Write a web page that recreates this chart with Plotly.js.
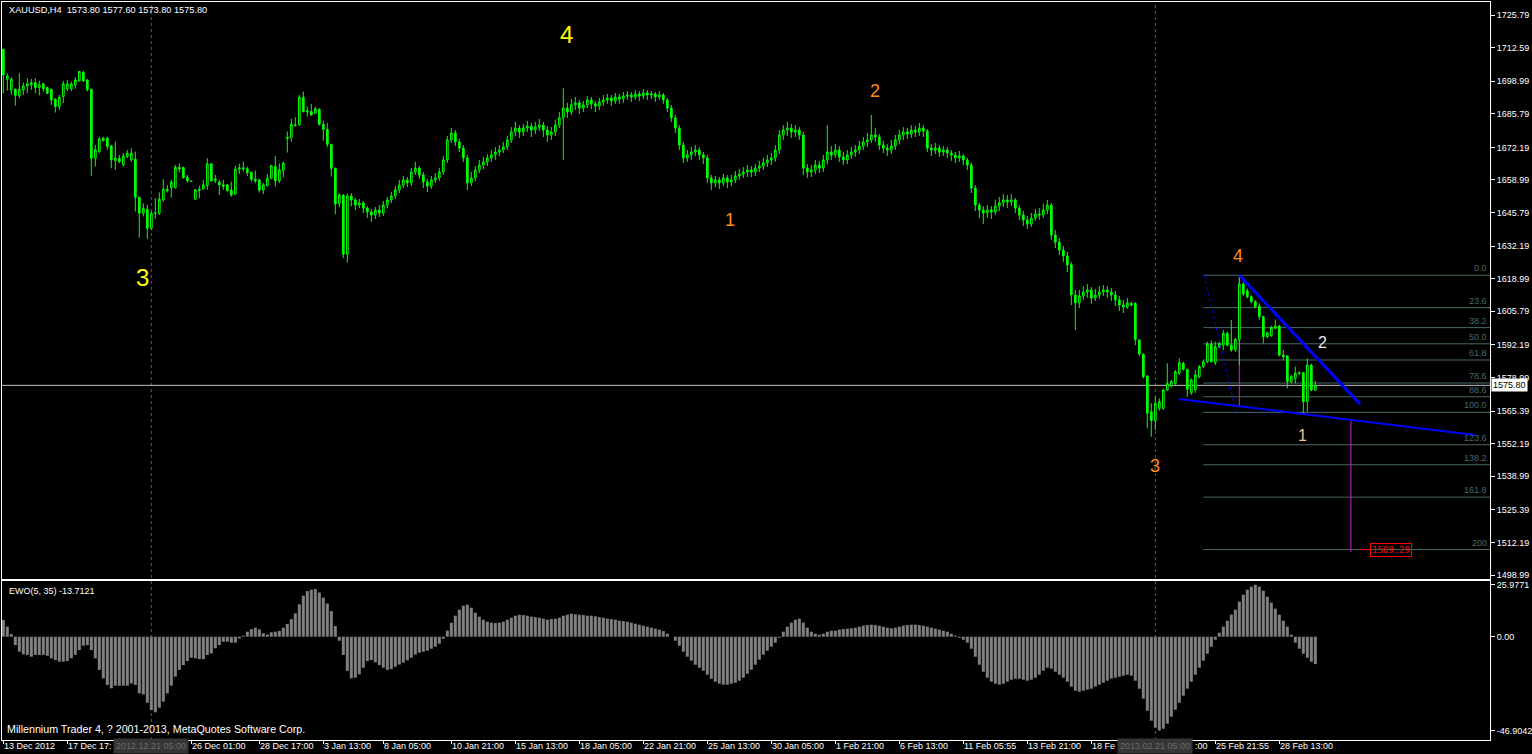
<!DOCTYPE html>
<html><head><meta charset="utf-8">
<script src="https://cdn.plot.ly/plotly-3.0.1.min.js"></script>
<style>html,body{margin:0;padding:0;background:#000;overflow:hidden}#chart{width:1532px;height:754px}</style>
</head><body><div id="chart"></div>
<script>
// ---------- DATA (XAUUSD H4, candles 0..328) ----------
const openA1 = [1711.9,1699.8,1695.5,1695.7,1693.2,1695.5,1697.1,1697.5,1698.4,1696.4,1697.9,1696.4,1695.7,1691.7,1688.7,1692.8,1695.9,1695.9,1697.5,1699.1,1702.6,1699.5,1695.7,1667.8,1670.5,1675.0,1675.9,1672.8,1666.8,1667.8,1665.1,1668.4,1667.1,1667.4,1652.0,1645.5,1647.1,1639.4,1645.5,1645.5,1650.9,1655.2,1655.9,1655.9,1664.1,1664.0,1660.0,1658.5,1651.2,1654.7,1655.4,1656.7,1665.5,1658.7,1658.1,1657.0,1657.0,1654.9,1653.3,1663.4,1663.9,1663.5,1662.1,1659.3,1659.0,1654.9,1656.7,1659.7,1664.4,1658.7,1662.8,1675.7,1676.1,1681.0,1681.3,1692.5,1686.5,1686.7,1686.0,1687.6,1681.5,1679.5,1673.4,1663.7,1649.5,1652.9,1628.9];
const highA1 = [1712.0,1702.2,1700.6,1696.0,1702.2,1698.4,1700.2,1699.9,1700.2,1699.2,1698.4,1696.8,1696.0,1692.1,1693.4,1699.1,1699.5,1698.8,1700.6,1703.1,1703.1,1699.8,1696.0,1673.2,1676.5,1676.5,1676.5,1673.2,1674.5,1669.1,1669.8,1671.1,1671.8,1670.5,1652.2,1649.5,1648.9,1646.2,1651.6,1653.9,1659.3,1657.0,1659.0,1665.1,1665.7,1664.4,1661.0,1658.7,1655.3,1656.6,1659.0,1667.8,1665.8,1661.0,1659.0,1659.0,1657.2,1658.3,1664.7,1665.5,1666.4,1664.4,1662.4,1662.8,1659.3,1657.7,1661.4,1665.1,1668.7,1665.7,1666.4,1678.6,1683.7,1684.4,1693.4,1694.8,1688.7,1689.8,1688.7,1688.0,1683.0,1682.0,1673.6,1664.0,1653.6,1653.2,1653.6];
const lowA1 = [1694.1,1695.2,1693.4,1689.1,1692.1,1693.4,1694.1,1695.5,1694.1,1693.2,1694.8,1693.7,1689.4,1686.3,1687.4,1690.1,1695.0,1695.0,1696.0,1698.8,1698.8,1694.8,1660.6,1664.4,1669.8,1674.5,1671.2,1663.7,1663.1,1665.7,1664.4,1667.8,1666.4,1646.2,1635.6,1644.2,1635.1,1638.7,1643.2,1644.8,1650.2,1653.9,1651.8,1655.5,1662.0,1659.5,1657.9,1658.2,1650.9,1651.6,1655.0,1655.0,1658.3,1657.7,1652.9,1655.0,1654.2,1652.2,1652.9,1661.4,1662.4,1660.6,1658.3,1657.7,1653.9,1653.3,1656.3,1659.3,1656.3,1657.7,1660.1,1670.1,1674.5,1680.6,1680.9,1686.3,1684.7,1684.9,1685.7,1681.0,1674.9,1672.2,1660.4,1645.1,1647.9,1627.3,1625.5];
const closeA1 = [1701.5,1701.1,1699.8,1693.2,1695.7,1697.1,1697.9,1698.4,1696.4,1697.5,1695.9,1694.1,1691.4,1688.7,1692.5,1697.9,1697.9,1697.9,1699.5,1702.9,1699.1,1695.5,1667.8,1671.2,1675.5,1675.9,1672.5,1667.1,1667.8,1666.4,1668.7,1669.8,1669.8,1652.0,1645.5,1647.5,1639.4,1645.5,1645.6,1651.2,1655.2,1654.7,1658.1,1664.1,1663.4,1659.9,1658.7,1658.4,1655.0,1655.2,1657.0,1665.5,1658.6,1659.3,1657.0,1656.4,1654.7,1652.9,1663.4,1663.9,1663.5,1662.0,1659.3,1658.7,1654.9,1657.0,1659.7,1664.7,1658.7,1663.1,1665.8,1676.2,1681.5,1681.2,1692.5,1686.7,1687.0,1685.3,1687.8,1681.5,1679.5,1673.4,1663.7,1649.2,1652.9,1628.9,1652.5];

const openA2 = [1652.5,1650.9,1648.8,1649.7,1647.6,1646.0,1644.8,1646.8,1645.6,1648.8,1650.9,1652.5,1654.9,
1656.9,1659.0,1657.8,1662.2,1663.8,1661.0,1658.2,1656.5,1659.0,1659.8,
1662.2,1667.1,1675.2,1678.0,1674.4,1671.9,1667.9,1657.8,1659.8,1663.0,
1665.0,1666.3,1667.9,1669.1,1670.3,1671.1,1672.3,1675.2,1678.4,1680.0,
1678.4,1680.0,1680.8,1679.2,1680.4,1681.2,1679.2,1677.2,1678.4,1681.2,
1684.1,1688.1,1686.5,1689.4,1690.2,1688.1,1689.4,1691.4,1689.8,1688.9,
1690.6,1691.4,1692.2,1691.0,1692.6,1691.8,1693.0,1693.4,1692.6,1693.8,
1693.0,1694.2,1693.4,1693.8,1692.6,1693.4,1691.4,1688.1,1684.1,1680.0,
1673.1,1667.9,1669.1,1670.3,1671.1,1669.1,1667.9,1659.8,1657.8,1659.0,
1657.8,1659.8,1658.2,1659.0,1660.6,1661.4,1662.2,1663.0,1662.2,1663.8,
1664.6,1665.9,1667.1,1667.9,1671.1,1677.2,1679.2,1680.0,1678.4,1679.2,
1677.2,1663.8,1662.2,1663.0,1665.0,1663.8,1667.1,1670.3,1669.1,1671.1,
1668.3,1667.1,1669.1,1670.3,1671.1,1672.7,1674.4,1675.2,1677.2,1676.4,
1673.1,1671.9,1671.1,1672.7,1675.2,1677.2,1678.4,1677.6,1679.2,1678.4,
1680.0,1678.8,1671.9,1671.1,1671.9,1670.3,1671.1,1669.9,1669.1,1667.9,
1668.7,1667.1,1665.0,1655.7,1648.8,1646.8,1645.6,1646.8,1646.0,1648.4,
1649.7,1650.9,1650.1,1650.9,1647.6,1644.8,1642.8,1641.1,1643.6,1645.2,
1644.8,1646.8,1648.8,1636.7,1633.8,1630.6,1628.2,1624.6,1612.4,1609.2,
1612.0,1613.6,1614.4,1611.2,1612.4,1613.6,1614.4,1613.6,1612.4,1610.4,
1608.3,1607.5];
const highA2 = [1653.7,1651.7,1651.3,1650.5,1648.4,1647.2,1648.0,1648.8,1650.5,1652.1,1654.1,1656.5,1659.0,
1660.6,1660.2,1663.8,1666.3,1664.6,1662.2,1659.4,1660.6,1661.8,1663.8,
1668.7,1676.8,1680.0,1679.2,1675.6,1673.1,1669.1,1662.2,1664.6,1667.1,
1668.3,1669.5,1671.1,1672.3,1673.1,1674.4,1676.8,1680.4,1682.5,1681.2,
1681.6,1682.9,1682.1,1682.5,1683.7,1682.5,1680.8,1680.4,1683.3,1686.5,
1696.2,1690.2,1691.8,1692.6,1691.4,1691.0,1693.0,1692.6,1691.0,1692.2,
1693.4,1693.8,1693.4,1694.2,1693.8,1694.6,1695.0,1694.6,1695.4,1695.0,
1695.8,1695.4,1695.0,1694.6,1695.0,1694.2,1692.2,1689.4,1685.3,1681.2,
1674.4,1671.1,1672.3,1673.1,1672.3,1670.3,1669.1,1661.0,1660.6,1660.2,
1661.4,1661.0,1661.0,1662.6,1663.4,1664.2,1665.0,1664.6,1665.4,1666.7,
1667.9,1669.1,1669.9,1673.1,1679.2,1681.2,1682.5,1681.6,1681.2,1680.4,
1678.4,1665.4,1665.0,1667.1,1666.7,1669.1,1681.2,1672.7,1673.5,1672.7,
1670.3,1671.1,1672.3,1673.1,1674.8,1676.4,1678.0,1685.3,1680.0,1677.6,
1674.8,1673.5,1675.2,1677.2,1679.2,1680.4,1680.0,1681.2,1680.8,1682.1,
1681.2,1679.6,1673.5,1674.0,1673.1,1672.7,1672.3,1671.1,1670.3,1670.7,
1669.5,1667.9,1665.9,1656.9,1649.7,1648.4,1648.8,1648.4,1650.9,1652.1,
1653.3,1652.9,1653.3,1651.7,1648.8,1646.4,1644.4,1645.6,1647.2,1647.6,
1649.3,1650.9,1649.7,1638.7,1635.5,1632.2,1629.8,1625.8,1614.4,1614.4,
1616.0,1616.8,1615.6,1614.8,1616.0,1616.4,1616.0,1615.2,1614.0,1612.0,
1610.4,1611.2];
const lowA2 = [1648.4,1646.8,1647.6,1645.6,1643.6,1642.0,1643.2,1644.0,1644.4,1647.6,1649.7,1651.3,1653.7,
1655.7,1656.1,1656.5,1661.0,1659.4,1655.7,1654.1,1655.3,1657.8,1658.6,
1661.0,1665.9,1674.0,1672.7,1670.3,1666.3,1654.9,1656.5,1658.6,1661.8,
1663.4,1664.6,1666.3,1667.1,1668.7,1669.9,1671.1,1674.0,1676.8,1676.0,
1676.8,1678.4,1676.4,1677.6,1678.8,1676.4,1674.4,1675.2,1676.8,1680.0,
1667.1,1684.1,1685.3,1687.3,1685.7,1686.5,1688.1,1687.7,1686.5,1687.3,
1689.0,1689.8,1689.0,1689.8,1689.8,1690.2,1691.4,1690.6,1691.4,1691.0,
1691.8,1691.4,1691.8,1690.6,1691.4,1689.8,1686.5,1682.5,1678.0,1671.1,
1665.9,1666.3,1667.1,1668.7,1667.1,1665.4,1657.8,1654.9,1656.1,1655.3,
1656.5,1655.7,1656.5,1657.8,1659.0,1659.8,1660.2,1660.2,1660.6,1662.2,
1663.0,1664.2,1665.0,1666.3,1669.5,1675.2,1676.8,1676.0,1676.4,1675.2,
1661.0,1659.8,1660.2,1661.4,1661.8,1662.2,1665.4,1667.1,1667.9,1666.3,
1665.0,1665.4,1667.5,1668.3,1669.5,1671.1,1672.3,1674.0,1674.4,1671.1,
1669.9,1668.7,1669.5,1671.1,1673.5,1675.2,1675.6,1676.0,1676.4,1676.8,
1676.4,1670.3,1668.7,1669.5,1668.3,1668.7,1667.9,1666.7,1665.9,1666.3,
1665.0,1663.0,1653.7,1646.4,1643.6,1641.1,1643.6,1643.2,1644.8,1646.4,
1648.0,1647.6,1648.4,1645.6,1642.8,1640.3,1639.1,1639.9,1642.4,1642.8,
1643.6,1645.2,1634.7,1631.4,1628.6,1625.8,1621.7,1608.3,1598.2,1607.1,
1610.4,1611.2,1608.8,1610.0,1610.8,1612.0,1611.2,1610.0,1607.9,1605.9,
1605.1,1606.7];
const closeA2 = [1650.9,1648.8,1649.7,1647.6,1646.0,1644.8,1646.8,1645.6,1648.8,1650.9,1652.5,1654.9,1656.9,
1659.0,1657.8,1662.2,1663.8,1661.0,1658.2,1656.5,1659.0,1659.8,1662.2,
1667.1,1675.2,1678.0,1674.4,1671.9,1667.9,1657.8,1659.8,1663.0,1665.0,
1666.3,1667.9,1669.1,1670.3,1671.1,1672.3,1675.2,1678.4,1680.0,1678.4,
1680.0,1680.8,1679.2,1680.4,1681.2,1679.2,1677.2,1678.4,1681.2,1684.1,
1688.1,1686.5,1689.4,1690.2,1688.1,1689.4,1691.4,1689.8,1688.9,1690.6,
1691.4,1692.2,1691.0,1692.6,1691.8,1693.0,1693.4,1692.6,1693.8,1693.0,
1694.2,1693.4,1693.8,1692.6,1693.4,1691.4,1688.1,1684.1,1680.0,1673.1,
1667.9,1669.1,1670.3,1671.1,1669.1,1667.9,1659.8,1657.8,1659.0,1657.8,
1659.8,1658.2,1659.0,1660.6,1661.4,1662.2,1663.0,1662.2,1663.8,1664.6,
1665.9,1667.1,1667.9,1671.1,1677.2,1679.2,1680.0,1678.4,1679.2,1677.2,
1663.8,1662.2,1663.0,1665.0,1663.8,1667.1,1670.3,1669.1,1671.1,1668.3,
1667.1,1669.1,1670.3,1671.1,1672.7,1674.4,1675.2,1677.2,1676.4,1673.1,
1671.9,1671.1,1672.7,1675.2,1677.2,1678.4,1677.6,1679.2,1678.4,1680.0,
1678.8,1671.9,1671.1,1671.9,1670.3,1671.1,1669.9,1669.1,1667.9,1668.7,
1667.1,1665.0,1655.7,1648.8,1646.8,1645.6,1646.8,1646.0,1648.4,1649.7,
1650.9,1650.1,1650.9,1647.6,1644.8,1642.8,1641.1,1643.6,1645.2,1644.8,
1646.8,1648.8,1636.7,1633.8,1630.6,1628.2,1624.6,1612.4,1609.2,1612.0,
1613.6,1614.4,1611.2,1612.4,1613.6,1614.4,1613.6,1612.4,1610.4,1608.3,
1607.5,1609.2];

const openA3 = [1609.0,1609.0,1594.2,1588.5,1579.6,1565.1,1561.5,1566.5,1566.5,1573.9,1575.5,1576.6,1580.7,1584.7,1582.3,1572.8,1573.9,1579.3,1583.4,1585.4,1592.5,1585.0,1591.5,1592.1,1596.9,1592.1,1590.1,1594.4,1616.85,1614.15,1611.7,1609.7,1607.9,1603.6,1595.5,1595.9,1598.9,1599.8,1588.1,1587.7,1577.3,1578.6,1580.7,1580.9,1569.2,1584.0,1573.8];
const highA3 = [1609.7,1609.5,1594.4,1588.5,1580.0,1568.5,1571.2,1570.5,1574.5,1584.7,1578.0,1582.0,1586.7,1585.4,1582.6,1578.6,1582.0,1584.0,1586.1,1593.5,1594.0,1593.5,1593.8,1598.2,1597.5,1602.3,1595.0,1620.4,1617.5,1615.0,1612.3,1610.3,1609.0,1604.0,1597.5,1600.0,1602.5,1600.3,1590.1,1588.0,1580.0,1583.4,1581.5,1581.3,1586.7,1584.5,1577.6];
const lowA3 = [1607.7,1592.1,1587.7,1578.6,1558.4,1555.0,1557.7,1565.5,1565.8,1573.5,1575.0,1576.0,1580.0,1581.8,1571.2,1572.0,1572.8,1578.6,1582.7,1584.7,1585.0,1584.0,1590.8,1590.1,1591.5,1589.4,1589.5,1584.0,1612.0,1611.0,1609.0,1607.0,1602.3,1592.8,1594.9,1595.5,1598.5,1587.5,1586.1,1574.6,1576.6,1576.6,1580.0,1564.5,1565.1,1573.5,1573.8];
const closeA3 = [1608.3,1594.4,1588.5,1579.3,1564.5,1561.5,1568.5,1569.2,1573.9,1576.6,1577.3,1581.3,1585.0,1582.3,1574.2,1578.0,1580.0,1583.4,1585.4,1592.5,1585.4,1591.5,1592.8,1596.9,1592.1,1590.1,1594.4,1616.85,1612.8,1611.7,1609.7,1607.7,1603.6,1595.5,1597.1,1599.3,1599.8,1588.1,1587.4,1577.3,1579.3,1580.7,1580.9,1569.2,1584.0,1573.9,1575.8];

const ewo1 = [8.4,5.0,1.3,-4.2,-7.5,-8.8,-9.1,-10.0,-9.1,-9.1,-9.1,-9.5,-10.8,-11.7,-12.5,-12.5,-12.2,-10.8,-9.1,-6.7,-4.5,-4.2,-6.7,-10.8,-16.6,-20.8,-24.1,-25.8,-24.5,-24.5,-24.5,-24.5,-23.4,-24.1,-28.3,-28.9,-33.0,-36.7,-37.8,-35.5,-32.5,-28.3,-24.5,-20.0,-16.6,-14.2,-12.2,-10.5,-10.8,-11.2,-11.2,-9.1,-8.4,-5.8,-4.2,-2.5,-2.5,-3.0,-3.0,-0.9,0.5,2.5,3.8,4.5,3.7,1.7,1.1,2.2,2.5,2.9,4.5,6.4,8.8,11.7,16.2,20.5,22.8,23.5,23.8,22.1,19.5,16.6,12.8,5.3,-2.0,-9.1,-17.1,-20.8,-20.5,-18.8,-15.5,-12.2,-11.7,-12.8,-14.2,-15.5,-16.6,-16.2,-15.0,-13.9];
const ewo2 = [-13.0,-11.8,-10.5,-9.0,-8.0,-7.5,-7.0,-6.0,-5.0,-3.5,
-1.0,3.0,7.0,10.5,13.5,15.5,16.0,14.5,12.0,10.0,
8.5,7.5,7.0,6.8,7.0,7.5,8.5,9.5,10.5,11.0,
10.8,10.5,10.0,9.8,9.5,9.0,8.5,8.8,9.0,9.5,
10.5,11.0,11.5,11.2,11.0,10.8,10.5,10.5,10.2,9.8,
9.5,9.0,8.8,8.5,8.0,7.8,7.5,7.0,6.5,6.0,
5.5,5.0,4.5,4.0,3.5,2.8,1.5,0.0,-2.0,-4.5,
-7.5,-10.0,-12.0,-14.0,-15.5,-17.0,-19.0,-21.0,-22.5,-23.5,
-24.0,-24.0,-23.5,-23.0,-22.0,-20.5,-18.5,-16.5,-14.0,-11.5,
-9.0,-7.0,-5.0,-3.0,-0.5,2.5,5.0,7.0,8.5,9.0,
7.0,4.5,2.5,1.5,1.0,1.5,2.5,3.0,3.0,3.5,
3.8,4.0,4.2,4.5,5.0,5.5,5.8,6.0,5.8,5.5,
5.0,4.5,4.2,4.5,5.0,5.5,5.8,6.0,6.0,5.8,
5.5,5.0,4.5,4.0,3.5,3.0,2.5,1.5,0.5,-0.5,
-1.5,-3.0,-6.0,-10.0,-14.0,-17.5,-20.5,-22.5,-23.5,-24.0,
-23.5,-22.5,-21.5,-21.0,-21.0,-21.5,-22.0,-21.5,-20.5,-19.0,
-17.0,-15.5,-16.0,-17.5,-19.0,-20.5,-22.5,-25.0,-27.0,-27.5,
-27.0,-26.5,-26.0,-25.0,-24.0,-23.0,-22.0,-21.0,-20.5,-20.0,
-19.5,-19.0,-19.5,-22.0,-26.0,-31.0,-37.0,-42.0,-45.5,-46.9042,
-46.0,-43.5,-40.0,-36.5,-33.0,-29.5,-26.0,-22.5,-19.0,-15.5,
-12.0,-8.5,-5.0,-1.5,2.0,5.0,8.0,11.0,13.5,17.5,
21.0,23.5,25.0,25.9771,25.0,23.0,20.0,17.0,14.0,11.0,
8.0,5.0,1.0,-3.0,-6.0,-8.5,-10.5,-12.5,-13.7121];

// time axis: tick candle index and the part of each label left visible by the crosshair date boxes
const timeTickIdx = [0,16,32,47,64,80,95,112,128,144,160,176,192,208,224,240,256,272,287,303,319];
const timeLabels = ["13 Dec 2012","17 Dec 17:","","26 Dec 01:00","28 Dec 17:00","3 Jan 13:00","8 Jan 05:00","10 Jan 21:00","15 Jan 13:00","18 Jan 05:00","22 Jan 21:00","25 Jan 13:00","30 Jan 05:00","1 Feb 21:00","6 Feb 13:00","11 Feb 05:55","13 Feb 21:00","18 Fe","","25 Feb 21:55","28 Feb 13:00"];
const hiddenTail = ":00";
const priceTicks = [1725.79,1712.59,1698.99,1685.79,1672.19,1658.99,1645.79,1632.19,1618.99,1605.79,1592.19,1578.99,1565.39,1552.19,1538.99,1525.39,1512.19,1498.99];
const ewoTicks = [25.9771,0,-46.9042];
const ewoTickText = ["25.9771","0.00","-46.9042"];
const fibLevels = [0,23.6,38.2,50.0,61.8,78.6,88.6,100.0,123.6,138.2,161.8,200,224];
const fibHigh = 1620.4, fibLow = 1564.85;
const lastPrice = 1575.80;
const targetPrice = 1509.29;
const crossIdx = [37, 288];
const crossLabels = ["2012.12.21 05:00","2013.02.21 05:00"];

const openP = openA1.concat(openA2, openA3);
const highP = highA1.concat(highA2, highA3);
const lowP = lowA1.concat(lowA2, lowA3);
const closeP = closeA1.concat(closeA2, closeA3);
const ewo = ewo1.concat(ewo2);

// ---------- GEOMETRY HELPERS ----------
const W = 1532, H = 754, mL = 2, mR = 42, mT = 2, mB = 14;
const pw = W - mL - mR, ph = H - mT - mB;
const px2paperX = px => (px - mL) / pw;
const py2paperY = py => (H - mB - py) / ph;
const xRange = [-0.33, 371.67];
const mainDom = [py2paperY(579), 1];
const ewoDom = [0, py2paperY(581)];

const idx = openP.map((_, i) => i);
const eidx = ewo.map((_, i) => i);

const FONT = 'Liberation Sans, Arial, sans-serif';
const fibColor = '#4a6868';

const traces = [
  {type: 'candlestick', x: idx, open: openP, high: highP, low: lowP, close: closeP,
   xaxis: 'x', yaxis: 'y', hoverinfo: 'skip', showlegend: false,
   increasing: {line: {color: '#00ff00', width: 1}, fillcolor: '#000000'},
   decreasing: {line: {color: '#00ff00', width: 1}, fillcolor: '#00ff00'}},
  {type: 'bar', x: eidx, y: ewo, xaxis: 'x2', yaxis: 'y2', width: 0.75,
   marker: {color: '#808080', line: {width: 0}}, hoverinfo: 'skip', showlegend: false}
];

const shapes = [];
const annotations = [];
// time labels (left-aligned at their tick, MT4 style)
timeTickIdx.forEach((k, i) => { if (timeLabels[i]) annotations.push({xref: 'x2', yref: 'paper', x: k, y: py2paperY(746.5), text: timeLabels[i],
  showarrow: false, xanchor: 'left', yanchor: 'middle', xshift: -1, font: {family: FONT, size: 9, color: '#ffffff'}}); });
// current price line
shapes.push({type: 'line', xref: 'x', yref: 'y', x0: xRange[0], x1: xRange[1], y0: lastPrice, y1: lastPrice,
  line: {color: '#c0c0c0', width: 1}, layer: 'below'});
// crosshair verticals and their date boxes
crossIdx.forEach((k, i) => {
  shapes.push({type: 'line', xref: 'x', yref: 'paper', x0: k, x1: k, y0: 0, y1: 1,
    line: {color: '#5a5a5a', width: 1, dash: '3px,3px'}, layer: 'below'});
  annotations.push({xref: 'x2', yref: 'paper', x: k, y: py2paperY(746.5), text: crossLabels[i],
    showarrow: false, bgcolor: '#363636', font: {family: FONT, size: 9, color: '#6c6c6c'},
    xanchor: 'center', yanchor: 'middle', borderpad: 2});
});
// end of the label hidden under the second date box
annotations.push({xref: 'x2', yref: 'paper', x: crossIdx[1], y: py2paperY(746.5), text: hiddenTail, showarrow: false,
  xanchor: 'left', yanchor: 'middle', xshift: 38, font: {family: FONT, size: 9, color: '#ffffff'}});
// fibonacci levels
fibLevels.forEach(lv => {
  const p = fibHigh - (fibHigh - fibLow) * lv / 100;
  shapes.push({type: 'line', xref: 'x', yref: 'y', x0: 300, x1: xRange[1], y0: p, y1: p,
    line: {color: fibColor, width: 1}, layer: 'below'});
  annotations.push({xref: 'paper', yref: 'y', x: px2paperX(1489), y: p, text: (lv % 1 === 0 && lv <= 100) ? lv.toFixed(1) : String(lv),
    showarrow: false, xanchor: 'right', yanchor: 'bottom', font: {family: FONT, size: 9, color: fibColor}});
});
// fib dotted trend
shapes.push({type: 'line', xref: 'x', yref: 'y', x0: 300.2, x1: 308.2, y0: fibHigh, y1: fibLow,
  line: {color: '#0000ff', width: 1, dash: 'dot'}});
// magenta verticals
shapes.push({type: 'line', xref: 'x', yref: 'y', x0: 309, x1: 309, y0: fibHigh, y1: 1566.9,
  line: {color: '#d020d0', width: 1}, layer: 'below'});
shapes.push({type: 'line', xref: 'x', yref: 'y', x0: 336.9, x1: 336.9, y0: 1561.8, y1: 1508.3,
  line: {color: '#d020d0', width: 1}});
// red target
shapes.push({type: 'line', xref: 'x', yref: 'y', x0: 339.2, x1: 341.7, y0: targetPrice, y1: targetPrice,
  line: {color: '#ff0000', width: 1}});
annotations.push({xref: 'x', yref: 'y', x: 341.7, y: targetPrice, text: targetPrice.toFixed(2), showarrow: false,
  xanchor: 'left', yanchor: 'middle', bordercolor: '#ff0000', borderwidth: 1, borderpad: 1,
  font: {family: 'DejaVu Sans Mono, monospace', size: 9, color: '#ff0000'}});
// blue trendlines
shapes.push({type: 'line', xref: 'x', yref: 'y', x0: 309, x1: 339.2, y0: 1620.4, y1: 1568.2,
  line: {color: '#0000ff', width: 3}});
shapes.push({type: 'line', xref: 'x', yref: 'y', x0: 293.9, x1: 367.9, y0: 1570.3, y1: 1555.7,
  line: {color: '#0000ff', width: 2}});

// wave labels
const waves = [
  {t: '4', k: 140.7, p: 1717.7, c: '#ffff00', s: 24},
  {t: '3', k: 34.7, p: 1619.3, c: '#ffff00', s: 24},
  {t: '1', k: 181.7, p: 1642.8, c: '#ff8c1a', s: 18},
  {t: '2', k: 217.9, p: 1695.0, c: '#ff8c1a', s: 18},
  {t: '3', k: 288, p: 1543.1, c: '#ff8c1a', s: 18},
  {t: '4', k: 308.7, p: 1628.2, c: '#ff8c1a', s: 18},
  {t: '2', k: 329.9, p: 1593.0, c: '#e8e8f0', s: 16},
  {t: '1', k: 324.9, p: 1555.3, c: '#f3c58e', s: 16}
];
waves.forEach(w => annotations.push({xref: 'x', yref: 'y', x: w.k, y: w.p, text: w.t, showarrow: false,
  xanchor: 'center', yanchor: 'middle', font: {family: FONT, size: w.s, color: w.c}}));

// texts
annotations.push({xref: 'paper', yref: 'paper', x: px2paperX(7), y: py2paperY(10), text: 'XAUUSD,H4  1573.80 1577.60 1573.80 1575.80',
  showarrow: false, xanchor: 'left', yanchor: 'middle', font: {family: FONT, size: 9.2, color: '#ffffff'}});
annotations.push({xref: 'paper', yref: 'paper', x: px2paperX(7), y: py2paperY(591), text: 'EWO(5, 35) -13.7121',
  showarrow: false, xanchor: 'left', yanchor: 'middle', font: {family: FONT, size: 9, color: '#ffffff'}});
annotations.push({xref: 'paper', yref: 'paper', x: px2paperX(5), y: py2paperY(729), text: 'Millennium Trader 4, ? 2001-2013, MetaQuotes Software Corp.',
  showarrow: false, xanchor: 'left', yanchor: 'middle', font: {family: FONT, size: 10.7, color: '#ffffff'}});
// last price box on axis
annotations.push({xref: 'paper', yref: 'y', x: px2paperX(1491), y: lastPrice, text: lastPrice.toFixed(2),
  showarrow: false, xanchor: 'left', yanchor: 'middle', bgcolor: '#ffffff', borderpad: 1,
  font: {family: FONT, size: 9, color: '#000000'}});

const axCommon = {showgrid: false, zeroline: false, showline: true, mirror: true, linecolor: '#ffffff', linewidth: 1,
  tickcolor: '#ffffff', ticklen: 4, tickfont: {family: FONT, size: 9, color: '#ffffff'}, fixedrange: true};

const layout = {
  width: W, height: H, paper_bgcolor: '#000000', plot_bgcolor: '#000000',
  margin: {l: mL, r: mR, t: mT, b: mB}, showlegend: false, boxgap: 0.4,
  xaxis: Object.assign({}, axCommon, {domain: [0, 1], range: xRange, anchor: 'y', showticklabels: false, ticks: '', rangeslider: {visible: false}}),
  yaxis: Object.assign({}, axCommon, {domain: mainDom, range: [1497.37, 1731.06], side: 'right', ticks: 'outside',
    tickvals: priceTicks, ticktext: priceTicks.map(v => v.toFixed(2))}),
  xaxis2: Object.assign({}, axCommon, {domain: [0, 1], range: xRange, anchor: 'y2', ticks: 'outside', ticklen: 3,
    tickvals: timeTickIdx, showticklabels: false}),
  yaxis2: Object.assign({}, axCommon, {domain: ewoDom, range: [-51.65, 27.85], side: 'right', anchor: 'x2', ticks: 'outside',
    tickvals: ewoTicks, ticktext: ewoTickText}),
  shapes: shapes, annotations: annotations
};
Plotly.newPlot('chart', traces, layout, {displayModeBar: false, staticPlot: true});
</script></body></html>
